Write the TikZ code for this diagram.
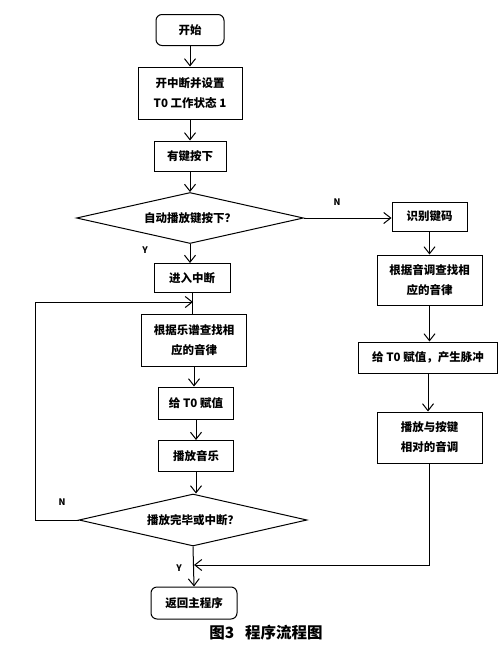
\documentclass[tikz,border=0pt]{standalone}
\usepackage{fontspec}
\setmainfont{Noto Sans CJK SC}
\usepackage{tikz}
\usetikzlibrary{shapes.geometric,arrows.meta}

\begin{document}
\begin{tikzpicture}[x=1pt, y=-1pt, line width=1pt,
    every node/.style={font=\fontsize{11.5}{20}\selectfont\bfseries, align=center, inner sep=0pt},
    box/.style={draw, rectangle},
    term/.style={draw, rectangle, rounded corners=6pt},
    cond/.style={draw, diamond, aspect=4.5},
    yn/.style={font=\fontsize{9}{9}\selectfont\bfseries},
    >={Straight Barb[length=7pt,width=11pt]}]
    \useasboundingbox (0,0) rectangle (500,645);
    \node[term, minimum width=68pt, minimum height=31pt] (start) at (190,30) {开始};
    \node[box, minimum width=104pt, minimum height=52pt] (init) at (190,93) {开中断并设置\\T0 工作状态 1};
    \node[box, minimum width=72pt, minimum height=30pt] (key) at (190,156) {有键按下};
    \node[cond, minimum width=227pt, minimum height=51pt] (auto) at (190,218) {自动播放键按下？};
    \node[box, minimum width=76pt, minimum height=29pt] (enter) at (192,278) {进入中断};
    \node[box, minimum width=105pt, minimum height=52pt] (score) at (194,340) {根据乐谱查找相\\应的音律};
    \node[box, minimum width=75pt, minimum height=32pt] (load) at (196,403) {给 T0 赋值};
    \node[box, minimum width=75pt, minimum height=31pt] (music) at (196,456) {播放音乐};
    \node[cond, minimum width=228pt, minimum height=52pt] (done) at (193,520) {播放完毕或中断？};
    \node[term, minimum width=86pt, minimum height=32pt] (ret) at (194,603) {返回主程序};
    \node[box, minimum width=75pt, minimum height=29pt] (code) at (429.5,216.5) {识别键码};
    \node[box, minimum width=105pt, minimum height=50pt] (tune) at (429.5,280) {根据音调查找相\\应的音律};
    \node[box, minimum width=139pt, minimum height=31pt] (pulse) at (428,357.5) {给 T0 赋值，产生脉冲};
    \node[box, minimum width=105pt, minimum height=51pt] (sound) at (429.5,437.5) {播放与按键\\相对的音调};
    \node[font=\fontsize{15.5}{16}\selectfont\bfseries] (caption) at (266,633) {图3\hspace{0.7em}程序流程图};
    \coordinate (loopin) at (193,302);
    \coordinate (merge) at (194,565);
    \draw[->] (start) -- (init);
    \draw[->] (init) -- (key);
    \draw[->] (key) -- (auto);
    \draw[->] (auto.south) -- (auto.south |- enter.north);
    \node[yn] (yes1) at (145,250) {Y};
    \draw[->] (auto.east) -- (code.west |- auto.east);
    \node[yn] (no1) at (337,202) {N};
    \draw (enter.south) -- (enter.south |- score.north);
    \draw[->] (score) -- (score |- load.north);
    \draw[->] (load) -- (music);
    \draw[->] (music) -- (music |- done.north);
    \draw (done.west) -- (35,520) |- (loopin);
    \draw[->] (35,302) -- (loopin);
    \node[yn] (no2) at (62,502) {N};
    \draw[->] (done.south) -- (ret.north);
    \node[yn] (yes2) at (179,568) {Y};
    \draw[->] (code) -- (code |- tune.north);
    \draw[->] (tune) -- (tune |- pulse.north);
    \draw[->] (pulse) -- (pulse |- sound.north);
    \draw[->] (sound.south) |- (merge);
\end{tikzpicture}
\end{document}
